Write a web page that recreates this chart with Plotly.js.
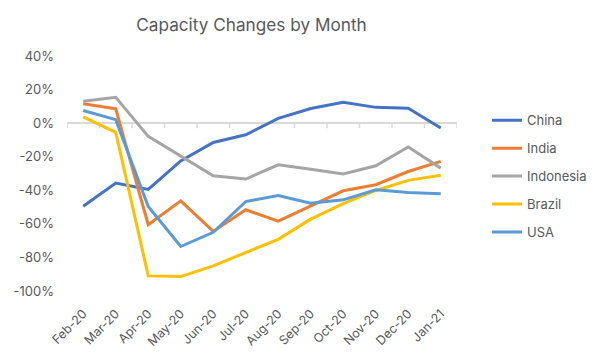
<!DOCTYPE html>
<html>
<head>
<meta charset="utf-8">
<script src="https://cdn.plot.ly/plotly-3.0.1.min.js"></script>
<style>html,body{margin:0;padding:0;background:#fff;}#chart{width:604px;height:362px;}</style>
</head>
<body>
<div id="chart"></div>
<script>
const months = ["Feb-20","Mar-20","Apr-20","May-20","Jun-20","Jul-20","Aug-20","Sep-20","Oct-20","Nov-20","Dec-20","Jan-21"];
const china     = [-49.5, -35.7, -39.5, -22.5, -11.5, -6.9, 2.8, 8.7, 12.4, 9.4, 8.9, -2.9];
const india     = [11.6, 8.5, -60.5, -46.3, -64.5, -51.6, -58.4, -49.3, -40.3, -36.7, -28.8, -22.8];
const indonesia = [13.0, 15.4, -7.9, -19.8, -31.3, -33.3, -24.8, -27.4, -30.3, -25.4, -14.2, -26.8];
const brazil    = [3.7, -5.5, -91.0, -91.4, -85.0, -77.0, -69.2, -57.2, -48.0, -40.1, -34.1, -31.1];
const usa       = [7.5, 2.1, -49.7, -73.5, -65.0, -46.7, -43.1, -47.7, -45.7, -39.7, -41.3, -42.1];
const seriesNames = ["China","India","Indonesia","Brazil","USA"];
const seriesColors = ["#4472C4","#ED7D31","#A5A5A5","#FFC000","#5B9BD5"];
const yTicks = [40, 20, 0, -20, -40, -60, -80, -100];

const allSeries = [china, india, indonesia, brazil, usa];
const traces = allSeries.map((vals, i) => ({
  x: months, y: vals, type: "scatter", mode: "lines",
  name: seriesNames[i], legendgroup: seriesNames[i],
  line: {color: seriesColors[i], width: 3}
}));

const tickShapes = [];
for (let i = 0; i <= months.length; i++) {
  tickShapes.push({
    type: "line", xref: "x", yref: "y", x0: i - 0.5, x1: i - 0.5,
    ysizemode: "pixel", yanchor: 0, y0: 0, y1: -5, layer: "below",
    line: {color: "#D9D9D9", width: 1.5}
  });
}

const font = "Inter, Liberation Sans, Arial, sans-serif";
const layout = {
  width: 604, height: 362,
  margin: {l: 67, r: 145, t: 56, b: 71},
  paper_bgcolor: "#fff", plot_bgcolor: "#fff",
  font: {family: font, color: "#595959", size: 13},
  title: {text: "Capacity Changes by Month", font: {family: font, size: 17.2, color: "#595959"},
          xref: "paper", x: 0.473, xanchor: "center", yref: "container", y: 0.931, yanchor: "middle"},
  xaxis: {type: "category", range: [-0.5, months.length - 0.5], showgrid: false, showline: false,
          ticks: "", tickangle: -45, ticklabelstandoff: 12, tickfont: {size: 12.5, color: "#595959"}, zeroline: false, fixedrange: true},
  yaxis: {range: [-100, 40], tickvals: yTicks, ticktext: yTicks.map(v => v + "%"),
          showgrid: false, zeroline: true, zerolinecolor: "#D9D9D9", zerolinewidth: 1.5,
          showline: false, ticks: "", ticklabelstandoff: 12, tickfont: {size: 13, color: "#595959"}},
  showlegend: true,
  legend: {x: 1.077, xanchor: "left", y: 0.79, yanchor: "top", tracegroupgap: 8,
           font: {size: 13, color: "#595959"}, bgcolor: "rgba(0,0,0,0)", itemwidth: 30},
  shapes: tickShapes
};
Plotly.newPlot("chart", traces, layout, {displayModeBar: false, staticPlot: true});
</script>
</body>
</html>
